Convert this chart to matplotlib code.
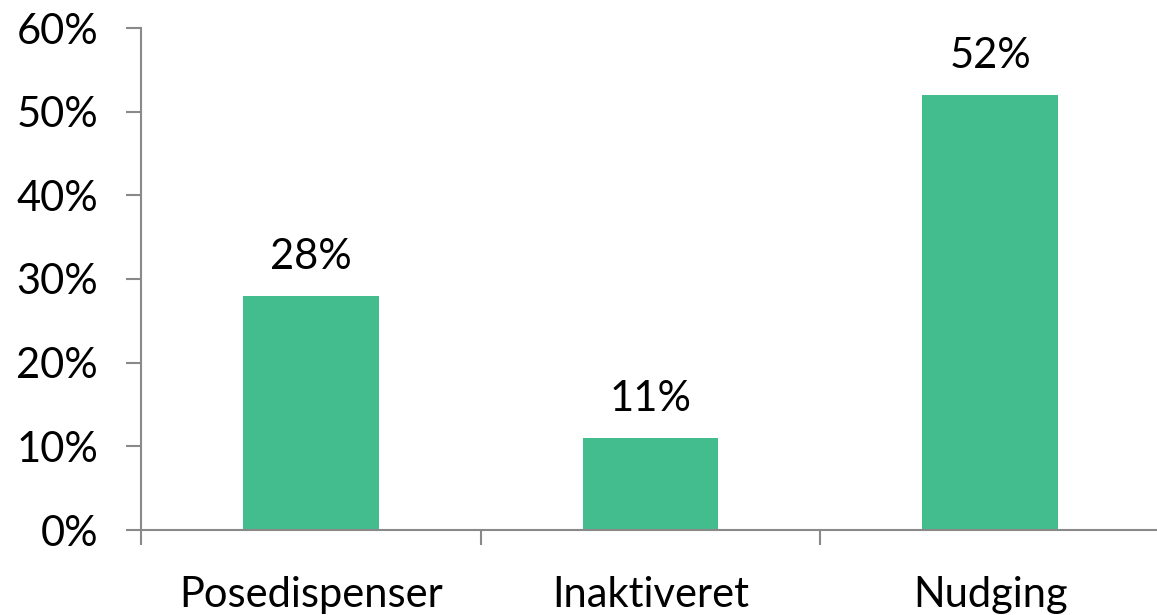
import matplotlib
matplotlib.use("Agg")
import matplotlib.pyplot as plt
from matplotlib.ticker import FixedLocator, PercentFormatter

categories = ["Posedispenser", "Inaktiveret", "Nudging"]
values = [0.28, 0.11, 0.52]
value_labels = ["28%", "11%", "52%"]
yticks = [0, 0.1, 0.2, 0.3, 0.4, 0.5, 0.6]

plt.rcParams['font.family'] = ['Lato', 'DejaVu Sans']

W, H = 1157, 615
fig = plt.figure(figsize=(W / 100, H / 100), dpi=100)
ax = fig.add_axes([141 / W, 85 / H, (1160 - 141) / W, (530 - 28) / H])

bar_color = "#43BC8E"
axis_color = "#898989"
fs = 30
x = list(range(len(categories)))
ax.bar(x, values, width=0.4, color=bar_color, zorder=2)

for xi, v, lab in zip(x, values, value_labels):
    ax.annotate(lab, (xi, v), xytext=(0, 19.5), textcoords="offset points",
                ha="center", va="baseline", fontsize=fs, color="black")

ax.set_xlim(-0.5, 2.5)
ax.set_ylim(0, 0.6)
ax.set_yticks(yticks)
ax.yaxis.set_major_formatter(PercentFormatter(1.0, decimals=0))
ax.set_xticks(x)
ax.set_xticklabels(categories)
ax.xaxis.set_minor_locator(FixedLocator([-0.5, 0.5, 1.5, 2.5]))

for s in ["top", "right"]:
    ax.spines[s].set_visible(False)
for s in ["left", "bottom"]:
    ax.spines[s].set_color(axis_color)
    ax.spines[s].set_linewidth(1.5)

ax.tick_params(axis="y", direction="out", length=10.8, width=1.5, color=axis_color,
               labelsize=fs, pad=20, labelcolor="black")
ax.tick_params(axis="x", which="major", length=0, labelsize=fs, pad=33, labelcolor="black")
ax.tick_params(axis="x", which="minor", direction="out", length=10.8, width=1.5, color=axis_color)

fig.savefig("out.png", dpi=100)
